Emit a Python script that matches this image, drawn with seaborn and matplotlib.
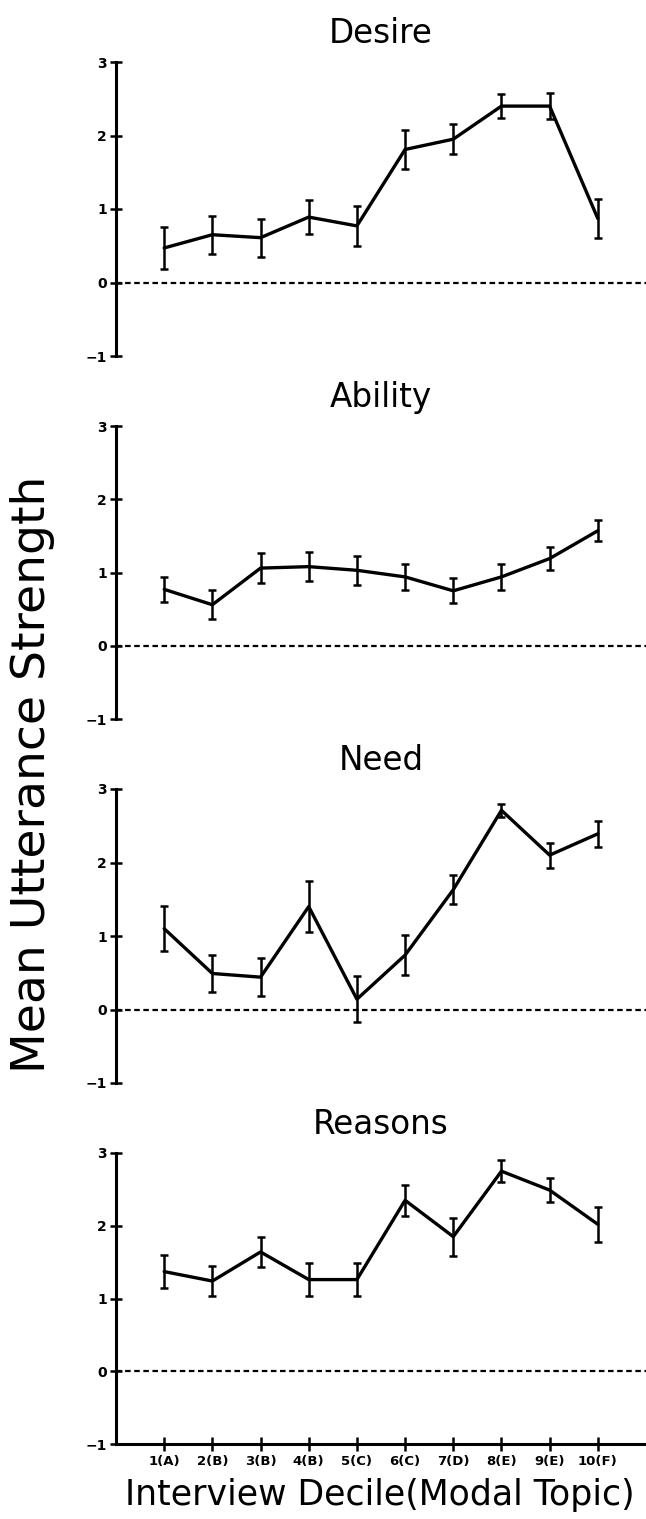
import matplotlib
matplotlib.use("Agg")
import matplotlib.pyplot as plt
import seaborn as sns

# 数据：每个十分位的均值与标准误
deciles = [1, 2, 3, 4, 5, 6, 7, 8, 9, 10]
decile_labels = ['1(A)', '2(B)', '3(B)', '4(B)', '5(C)', '6(C)', '7(D)', '8(E)', '9(E)', '10(F)']

desire = [0.47, 0.65, 0.61, 0.89, 0.77, 1.81, 1.95, 2.40, 2.40, 0.87]
desire_err = [0.28, 0.26, 0.26, 0.23, 0.27, 0.27, 0.20, 0.16, 0.18, 0.26]

ability = [0.77, 0.56, 1.06, 1.08, 1.03, 0.94, 0.75, 0.94, 1.19, 1.57]
ability_err = [0.17, 0.20, 0.21, 0.20, 0.20, 0.18, 0.17, 0.18, 0.16, 0.14]

need = [1.10, 0.49, 0.44, 1.40, 0.14, 0.74, 1.63, 2.71, 2.10, 2.39]
need_err = [0.31, 0.25, 0.26, 0.35, 0.31, 0.27, 0.20, 0.09, 0.17, 0.18]

reasons = [1.37, 1.24, 1.64, 1.26, 1.26, 2.35, 1.85, 2.75, 2.49, 2.02]
reasons_err = [0.23, 0.20, 0.21, 0.23, 0.23, 0.21, 0.26, 0.15, 0.17, 0.24]

panel_titles = ['Desire', 'Ability', 'Need', 'Reasons']
panel_values = [desire, ability, need, reasons]
panel_errors = [desire_err, ability_err, need_err, reasons_err]

sns.set_style('white')
plt.rcParams['font.family'] = ['DejaVu Sans']
plt.rcParams['text.color'] = 'black'
plt.rcParams['axes.labelcolor'] = 'black'
plt.rcParams['xtick.color'] = 'black'
plt.rcParams['ytick.color'] = 'black'

fig = plt.figure(figsize=(6.46, 15.19), dpi=100)

# 面板位置（图像坐标换算）
left = 116 / 646
width = 1 - left
panel_boxes = [(62, 356), (426, 719), (789, 1083), (1153, 1444)]

for i, (top_px, bot_px) in enumerate(panel_boxes):
    bottom = 1 - bot_px / 1519
    height = (bot_px - top_px) / 1519
    ax = fig.add_axes([left, bottom, width, height])

    sns.lineplot(x=deciles, y=panel_values[i], ax=ax, color='black', linewidth=2.4)
    ax.errorbar(deciles, panel_values[i], yerr=panel_errors[i], fmt='none',
                ecolor='black', elinewidth=1.8, capsize=3, capthick=1.8)
    ax.axhline(0, color='black', linewidth=1.6, linestyle=(0, (2.5, 1.6)))

    ax.set_xlim(0, 11)
    ax.set_ylim(-1, 3)
    ax.set_yticks([-1, 0, 1, 2, 3])
    ax.set_yticklabels(['\u22121', '0', '1', '2', '3'], fontsize=10, fontweight='bold')
    ax.set_title(panel_titles[i], fontsize=23.5, pad=14, color='black')

    for side in ['top', 'right']:
        ax.spines[side].set_visible(False)
    ax.spines['left'].set_linewidth(2.2)
    ax.spines['left'].set_color('black')

    ax.tick_params(axis='y', left=True, direction='inout', length=9, width=1.8,
                   pad=2, colors='black')

    if i < 3:
        ax.spines['bottom'].set_visible(False)
        ax.set_xticks([])
    else:
        ax.spines['bottom'].set_linewidth(2.2)
        ax.spines['bottom'].set_color('black')
        ax.set_xticks(deciles)
        ax.set_xticklabels(decile_labels, fontsize=9.5, fontweight='bold')
        ax.tick_params(axis='x', bottom=True, direction='inout', length=10, width=1.8,
                       pad=3, colors='black')

fig.text(0.050, 1 - 774 / 1519, 'Mean Utterance Strength', rotation=90,
         ha='center', va='center', fontsize=34)
fig.text(380 / 646, 1 - 1505 / 1519, 'Interview Decile(Modal Topic)',
         ha='center', va='baseline', fontsize=25)

fig.savefig('out.png', dpi=100)
plt.close(fig)
